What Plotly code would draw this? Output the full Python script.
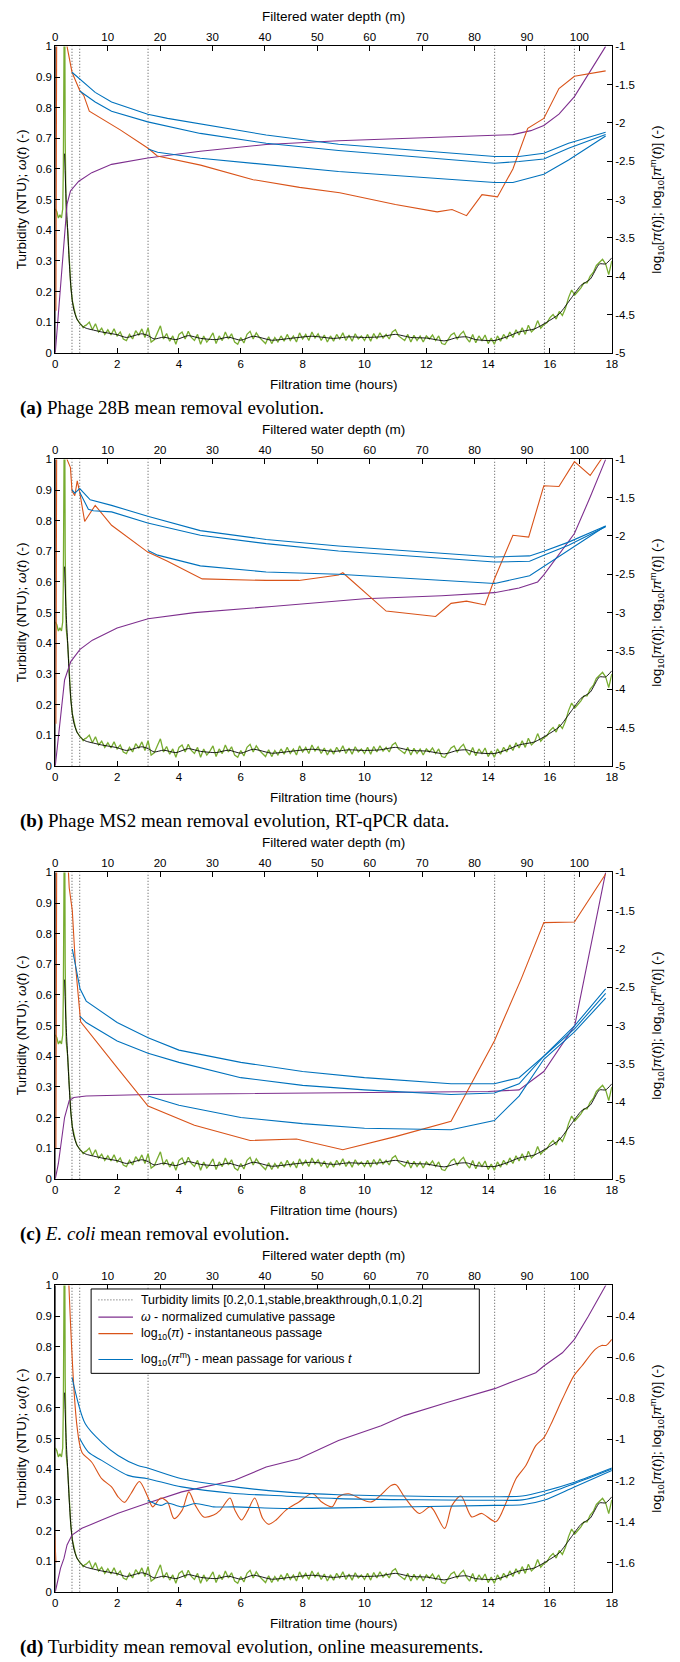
import plotly.graph_objects as go

W, H = 680, 1662
X0, X1 = 53, 617
TOP0, BOT0, STEP = 40.7, 349.3, 416

BLUE, ORANGE, PURPLE, GREEN = "#0072BD", "#D95319", "#7E2F8E", "#77AC30"
FONT = "Liberation Sans, Arial, sans-serif"
SERIF = "Liberation Serif, Times New Roman, serif"

# ---------------- data ----------------
hours_ticks = list(range(0, 19, 2))
depth_ticks = list(range(0, 101, 10))
depth_max = 106.2
left_ticks = [0, 0.1, 0.2, 0.3, 0.4, 0.5, 0.6, 0.7, 0.8, 0.9, 1]
right_ticks_abc = [-1, -1.5, -2, -2.5, -3, -3.5, -4, -4.5, -5]
right_ticks_d = [-0.4, -0.6, -0.8, -1, -1.2, -1.4, -1.6]
limit_times = [0.54, 0.79, 3.0, 14.21, 15.82, 16.79]

# turbidity raw (green) and smoothed (black), shared by all panels
green_t = [0, 0.05, 0.1, 0.15, 0.2, 0.24, 0.26, 0.28, 0.3, 0.32, 0.35, 0.4, 0.45, 0.5, 0.55, 0.6,
           0.65, 0.7, 0.75, 0.8, 0.85, 0.9, 0.95] + [round(1 + 0.1 * i, 1) for i in range(171)]
green_v = [0.47, 0.46, 0.44, 0.45, 0.44, 0.47, 0.6, 1.3, 1.3, 0.7, 0.45, 0.4, 0.3, 0.22, 0.17, 0.145,
           0.125, 0.11, 0.1, 0.095, 0.09, 0.082, 0.088,
           0.09, 0.1, 0.075, 0.095, 0.068, 0.08, 0.06, 0.075, 0.058, 0.078,
           0.055, 0.068, 0.045, 0.04, 0.06, 0.045, 0.072, 0.058, 0.078, 0.05,
           0.082, 0.035, 0.042, 0.065, 0.088, 0.045, 0.063, 0.038, 0.055, 0.028,
           0.06, 0.068, 0.045, 0.07, 0.05, 0.04, 0.06, 0.028, 0.055, 0.035,
           0.048, 0.065, 0.03, 0.055, 0.04, 0.068, 0.045, 0.062, 0.035, 0.028,
           0.05, 0.032, 0.06, 0.07, 0.045, 0.065, 0.05, 0.04, 0.03, 0.052,
           0.03, 0.05, 0.035, 0.055, 0.038, 0.06, 0.04, 0.055, 0.035, 0.065,
           0.045, 0.06, 0.04, 0.068, 0.048, 0.062, 0.04, 0.058, 0.035, 0.055,
           0.038, 0.06, 0.045, 0.065, 0.04, 0.058, 0.038, 0.062, 0.045, 0.055,
           0.04, 0.06, 0.038, 0.063, 0.045, 0.065, 0.048, 0.06, 0.045, 0.068,
           0.075, 0.055, 0.048, 0.04, 0.06, 0.035, 0.057, 0.04, 0.055, 0.035,
           0.055, 0.045, 0.058, 0.04, 0.055, 0.03, 0.027, 0.045, 0.058, 0.065,
           0.045, 0.06, 0.07, 0.048, 0.035, 0.06, 0.033, 0.055, 0.04, 0.058,
           0.03, 0.048, 0.028, 0.055, 0.038, 0.06, 0.045, 0.068, 0.05, 0.075,
           0.058, 0.082, 0.06, 0.09, 0.068, 0.078, 0.105, 0.08, 0.092, 0.098,
           0.115, 0.125, 0.11, 0.135, 0.122, 0.145, 0.18, 0.205, 0.188, 0.2,
           0.212, 0.228, 0.228, 0.25, 0.262, 0.285, 0.295, 0.305, 0.29, 0.255,
           0.3]
black_t = [0, 0.01, None, 0.3, 0.35, 0.4, 0.45, 0.5, 0.55, 0.6, 0.7, 0.8, 0.9, 1.0, 1.5, 2.0, 2.3, 2.8,
           3.0, 3.2, 3.5, 3.9, 4.3, 4.7, 5.2, 5.6, 6.0, 6.4, 7.0, 7.6, 8.3, 9.0, 9.5, 10.0, 10.5,
           11.0, 11.5, 12.0, 12.6, 13.0, 13.3, 13.6, 14.2, 14.6, 15.0, 15.5, 15.9, 16.3, 16.7,
           17.0, 17.3, 17.6, 17.8, 18.0]
black_v = [0, 1.5, None, 0.65, 0.5, 0.4, 0.3, 0.22, 0.17, 0.14, 0.11, 0.095, 0.085, 0.08, 0.068, 0.059,
           0.05, 0.062, 0.056, 0.045, 0.051, 0.043, 0.056, 0.047, 0.043, 0.051, 0.041, 0.054, 0.041,
           0.047, 0.054, 0.047, 0.052, 0.05, 0.052, 0.06, 0.05, 0.048, 0.039, 0.05, 0.052, 0.043,
           0.04, 0.052, 0.068, 0.078, 0.1, 0.127, 0.18, 0.22, 0.24, 0.29, 0.29, 0.31]

# ---- panel (a) Phage 28B ----
a_orange_t = [0.02, 0.05, 0.36, 0.38, 0.54, 0.79, 0.92, 1.1, 2.1, 3.0, 3.3, 4.7, 6.4, 7.9, 9.2, 11.0,
              12.35, 12.83, 13.3, 13.57, 13.8, 14.3, 14.8, 15.28, 15.8, 16.29, 16.79, 17.8]
a_orange_v = [-4.45, 0, 0, -1.0, -1.337, -1.575, -1.64, -1.846, -2.09, -2.33, -2.43, -2.55, -2.74, -2.84,
              -2.91, -3.065, -3.16, -3.13, -3.21, -3.07, -2.935, -2.965, -2.60, -2.07, -1.94, -1.55, -1.39, -1.32]
a_blue1_t = [0.54, 0.97, 1.29, 1.82, 2.99, 3.63, 4.69, 6.82, 9.16, 14.21, 15.0, 15.8, 16.6, 17.8]
a_blue1_v = [-1.337, -1.487, -1.60, -1.726, -1.885, -1.94, -2.015, -2.157, -2.278, -2.438, -2.438, -2.395, -2.265, -2.12]
a_blue2_t = [0.79, 1.29, 1.82, 2.99, 4.69, 6.82, 9.16, 14.21, 15.0, 15.8, 16.6, 17.8]
a_blue2_v = [-1.583, -1.726, -1.846, -1.985, -2.136, -2.265, -2.36, -2.525, -2.503, -2.469, -2.33, -2.15]
a_blue3_t = [3.0, 3.31, 4.69, 6.82, 9.16, 14.21, 14.8, 15.8, 16.6, 17.8]
a_blue3_v = [-2.339, -2.382, -2.46, -2.546, -2.633, -2.776, -2.776, -2.668, -2.483, -2.17]
a_purple_t = [0, 0.38, 0.49, 0.76, 1.18, 1.82, 2.99, 4.69, 6.82, 9.16, 14.21, 14.8, 15.38, 15.8, 16.29, 16.79, 17.8]
a_purple_v = [0, 0.485, 0.528, 0.56, 0.588, 0.615, 0.636, 0.658, 0.68, 0.692, 0.71, 0.712, 0.725, 0.742, 0.779, 0.836, 1.0]

# ---- panel (b) Phage MS2 ----
b_orange_t = [0.02, 0.05, 0.36, 0.38, 0.49, 0.54, 0.63, 0.71, 0.79, 0.95, 1.29, 1.82, 2.99, 3.63, 4.75, 6.82,
              7.88, 9.16, 9.3, 10.7, 12.3, 12.8, 13.3, 13.9, 14.21, 14.8, 15.31, 15.8, 16.29, 16.79, 17.3, 17.67]
b_orange_v = [-4.45, 0, 0, -1.0, -1.107, -1.41, -1.475, -1.28, -1.43, -1.81, -1.60, -1.86, -2.21, -2.33, -2.56,
              -2.58, -2.58, -2.51, -2.48, -2.98, -3.05, -2.88, -2.85, -2.9, -2.555, -1.99, -2.015, -1.345,
              -1.354, -1.03, -1.21, -0.99]
b_blue1_t = [0.54, 0.63, 0.79, 1.13, 1.82, 2.99, 4.69, 6.82, 9.16, 14.21, 15.34, 15.8, 16.6, 17.8]
b_blue1_v = [-1.397, -1.44, -1.38, -1.527, -1.60, -1.743, -1.93, -2.045, -2.13, -2.274, -2.26, -2.2, -2.08, -1.87]
b_blue2_t = [0.79, 1.07, 1.23, 1.82, 2.99, 4.69, 6.82, 9.16, 14.21, 15.34, 15.8, 16.6, 17.8]
b_blue2_v = [-1.43, -1.65, -1.67, -1.685, -1.83, -1.99, -2.10, -2.195, -2.34, -2.33, -2.25, -2.12, -1.88]
b_blue3_t = [3.0, 3.31, 4.69, 6.82, 9.16, 14.21, 15.34, 15.8, 16.6, 17.8]
b_blue3_v = [-2.19, -2.25, -2.39, -2.47, -2.50, -2.62, -2.52, -2.40, -2.19, -1.87]
b_purple_t = [0, 0.1, 0.3, 0.5, 0.8, 1.2, 2, 3, 4.5, 7, 10, 12.5, 14.2, 15, 15.6, 15.8, 16.79, 17.3, 17.8]
b_purple_v = [0, 0.1, 0.28, 0.34, 0.38, 0.41, 0.45, 0.48, 0.5, 0.52, 0.545, 0.555, 0.565, 0.58, 0.6, 0.623,
              0.758, 0.877, 1.0]

# ---- panel (c) E. coli ----
c_orange_t = [0.02, 0.05, 0.3, 0.45, 0.55, 0.65, 0.82, 1.5, 2.0, 3.0, 4.5, 6.3, 7.8, 9.3, 11.0, 12.8, 14.2,
              15.07, 15.8, 16.79, 17.8]
c_orange_v = [-4.6, 0, 0, -1.2, -1.5, -2.2, -2.95, -3.3, -3.55, -4.05, -4.3, -4.5, -4.48, -4.62, -4.45, -4.25,
              -3.2, -2.39, -1.656, -1.648, -1.02]
c_blue1_t = [0.55, 0.8, 1, 2, 3, 4, 6, 8, 10, 12.8, 14.2, 15, 15.8, 16.8, 17.8]
c_blue1_v = [-2.0, -2.52, -2.68, -2.96, -3.16, -3.32, -3.48, -3.6, -3.68, -3.76, -3.76, -3.68, -3.4, -3.0, -2.52]
c_blue2_t = [0.8, 1, 2, 3, 4, 6, 8, 10, 12.8, 14.2, 15, 15.8, 16.8, 17.8]
c_blue2_v = [-2.88, -2.96, -3.2, -3.36, -3.48, -3.68, -3.78, -3.84, -3.9, -3.88, -3.76, -3.4, -3.04, -2.58]
c_blue3_t = [3, 4, 6, 8, 10, 12.8, 14.2, 15, 15.8, 16.8, 17.8]
c_blue3_v = [-3.92, -4.04, -4.2, -4.28, -4.34, -4.36, -4.24, -3.92, -3.44, -3.08, -2.64]
c_purple_t = [0, 0.1, 0.3, 0.45, 0.6, 1, 3, 8, 14, 15, 15.8, 16.8, 17.8]
c_purple_v = [0, 0.05, 0.2, 0.255, 0.265, 0.27, 0.275, 0.28, 0.285, 0.29, 0.35, 0.5, 1.0]

# ---- panel (d) turbidity, online ----
d_orange_t = [0.02, 0.05, 0.4, 0.44, 0.7, 0.86, 1.18, 1.5, 1.82, 2.03, 2.24, 2.45, 2.72, 2.99, 3.15, 3.41,
              3.63, 3.84, 4.1, 4.32, 4.53, 4.8, 5.12, 5.33, 5.65, 5.81, 6.02, 6.23, 6.45, 6.71, 6.9, 7.14,
              7.45, 7.88, 8.31, 8.63, 8.95, 9.16, 9.48, 10.22, 10.86, 11.02, 11.29, 11.77, 12.14, 12.59,
              12.83, 13.12, 13.47, 13.79, 14.25, 14.59, 14.9, 15.22, 15.54, 15.81, 16.08, 16.4, 16.77,
              17.03, 17.46, 17.67, 17.81, 18.0]
d_orange_v = [-1.6, 0, 0, -0.251, -0.933, -1.062, -1.111, -1.191, -1.231, -1.279, -1.306, -1.263, -1.205,
              -1.279, -1.328, -1.285, -1.304, -1.385, -1.345, -1.255, -1.321, -1.377, -1.368, -1.345, -1.285,
              -1.345, -1.392, -1.345, -1.285, -1.385, -1.413, -1.392, -1.345, -1.304, -1.263, -1.306, -1.328,
              -1.279, -1.264, -1.304, -1.224, -1.22, -1.279, -1.36, -1.328, -1.433, -1.321, -1.275, -1.377,
              -1.36, -1.4, -1.304, -1.191, -1.127, -1.03, -0.99, -0.91, -0.804, -0.691, -0.643, -0.562,
              -0.543, -0.543, -0.513]
d_blue1_t = [0.54, 0.97, 1.5, 2.03, 2.67, 2.99, 4.09, 5.8, 7.4, 9.16, 14.21, 15.1, 15.8, 16.79, 18]
d_blue1_v = [-0.698, -0.924, -1.014, -1.078, -1.127, -1.139, -1.191, -1.231, -1.255, -1.269, -1.279, -1.275,
             -1.252, -1.208, -1.139]
d_blue2_t = [0.79, 1.07, 1.5, 2.35, 2.99, 4.09, 5.8, 7.4, 9.16, 14.21, 15.1, 15.8, 16.79, 18]
d_blue2_v = [-0.996, -1.062, -1.102, -1.175, -1.191, -1.231, -1.263, -1.275, -1.288, -1.296, -1.294, -1.269,
             -1.215, -1.144]
d_blue3_t = [2.99, 3.41, 3.63, 4.09, 4.52, 5.12, 5.8, 7.4, 9.16, 14.21, 15.1, 15.8, 16.79, 18]
d_blue3_v = [-1.296, -1.321, -1.309, -1.328, -1.312, -1.328, -1.328, -1.336, -1.333, -1.321, -1.318, -1.296,
             -1.231, -1.151]
d_purple_t = [0, 0.17, 0.28, 0.38, 0.54, 0.86, 1.5, 2.03, 2.99, 4.09, 5.8, 6.82, 7.88, 9.16, 10.54, 11.29,
              12.67, 13.42, 14.21, 15.0, 15.54, 15.8, 16.4, 16.79, 17.24, 17.8, 18.0]
d_purple_v = [0, 0.077, 0.109, 0.153, 0.185, 0.207, 0.234, 0.256, 0.29, 0.326, 0.364, 0.407, 0.434, 0.494,
              0.542, 0.575, 0.618, 0.64, 0.663, 0.694, 0.715, 0.737, 0.78, 0.824, 0.899, 1.0, 1.04]

captions = ["<b>(a)</b> Phage 28B mean removal evolution.",
            "<b>(b)</b> Phage MS2 mean removal evolution, RT-qPCR data.",
            "<b>(c)</b> <i>E. coli</i> mean removal evolution.",
            "<b>(d)</b> Turbidity mean removal evolution, online measurements."]
legend_labels = ["Turbidity limits [0.2,0.1,stable,breakthrough,0.1,0.2]",
                 "<i>ω</i> - normalized cumulative passage",
                 "log<sub>10</sub>(<i>π</i>) - instantaneous passage",
                 "log<sub>10</sub>(<i>π</i><sup>m</sup>) - mean passage for various <i>t</i>"]

panels = [
    dict(orange=(a_orange_t, a_orange_v), blues=[(a_blue1_t, a_blue1_v), (a_blue2_t, a_blue2_v), (a_blue3_t, a_blue3_v)],
         purple=(a_purple_t, a_purple_v), rticks=right_ticks_abc, rrange=[-5, -1], spline=False),
    dict(orange=(b_orange_t, b_orange_v), blues=[(b_blue1_t, b_blue1_v), (b_blue2_t, b_blue2_v), (b_blue3_t, b_blue3_v)],
         purple=(b_purple_t, b_purple_v), rticks=right_ticks_abc, rrange=[-5, -1], spline=False),
    dict(orange=(c_orange_t, c_orange_v), blues=[(c_blue1_t, c_blue1_v), (c_blue2_t, c_blue2_v), (c_blue3_t, c_blue3_v)],
         purple=(c_purple_t, c_purple_v), rticks=right_ticks_abc, rrange=[-5, -1], spline=False),
    dict(orange=(d_orange_t, d_orange_v), blues=[(d_blue1_t, d_blue1_v), (d_blue2_t, d_blue2_v), (d_blue3_t, d_blue3_v)],
         purple=(d_purple_t, d_purple_v), rticks=right_ticks_d, rrange=[-1.741, -0.251], spline=True),
]

# ---------------- figure ----------------
def py(p):
    return 1 - p / H

def px(p):
    return p / W

def ref(kind, n):
    return kind if n == 1 else f"{kind}{n}"

TICK_SIZE, TITLE_SIZE, LEG_SIZE, CAP_SIZE = 11.5, 13.5, 12.4, 19

fig = go.Figure()
layout = dict(width=W, height=H, margin=dict(l=0, r=0, t=0, b=0), paper_bgcolor="white",
              plot_bgcolor="rgba(0,0,0,0)", showlegend=False,
              font=dict(family=FONT, size=TICK_SIZE, color="black"))
annotations, shapes = [], []

axis_common = dict(showgrid=False, zeroline=False, showline=True, linecolor="black", linewidth=1,
                   ticks="inside", ticklen=5, tickcolor="black", tickwidth=1,
                   tickfont=dict(family=FONT, size=TICK_SIZE, color="black"), fixedrange=True)

def fmt(v):
    return f"{v:g}"

LW = 1.1
for k, p in enumerate(panels):
    nb, nt = 2 * k + 1, 2 * k + 2
    top, bot = TOP0 + STEP * k, BOT0 + STEP * k
    ydom = [py(bot), py(top)]
    xdom = [px(X0), px(X1)]
    xb, xt, yl, yr = ref("x", nb), ref("x", nt), ref("y", nb), ref("y", nt)
    layout[ref("xaxis", nb)] = dict(axis_common, domain=xdom, range=[0, 18], anchor=yl, side="bottom",
                                    tickvals=hours_ticks, ticktext=[str(v) for v in hours_ticks])
    layout[ref("xaxis", nt)] = dict(axis_common, overlaying=xb, range=[0, depth_max], anchor=yl, side="top",
                                    tickvals=depth_ticks, ticktext=[str(v) for v in depth_ticks])
    layout[ref("yaxis", nb)] = dict(axis_common, domain=ydom, range=[0, 1], anchor=xb, side="left",
                                    tickvals=left_ticks, ticktext=[fmt(v) for v in left_ticks])
    layout[ref("yaxis", nt)] = dict(axis_common, overlaying=yl, range=p["rrange"], anchor=xb, side="right",
                                    tickvals=p["rticks"], ticktext=[fmt(v) for v in p["rticks"]])

    # dummy trace so the top axis renders
    fig.add_trace(go.Scatter(x=[0], y=[0], xaxis=xt, yaxis=yl, mode="markers",
                             marker=dict(opacity=0), hoverinfo="skip"))
    # dotted turbidity limits
    lx, ly = [], []
    for t in limit_times:
        lx += [t, t, None]
        ly += [0, 1, None]
    fig.add_trace(go.Scatter(x=lx, y=ly, xaxis=xb, yaxis=yl, mode="lines",
                             line=dict(color="#505050", width=1, dash="1px,2px"), hoverinfo="skip"))
    # green raw turbidity
    fig.add_trace(go.Scatter(x=green_t, y=green_v, xaxis=xb, yaxis=yl, mode="lines",
                             line=dict(color=GREEN, width=1.3), hoverinfo="skip"))
    # black smoothed turbidity
    fig.add_trace(go.Scatter(x=black_t, y=black_v, xaxis=xb, yaxis=yl, mode="lines",
                             line=dict(color="black", width=0.9, shape="spline", smoothing=0.6), hoverinfo="skip"))
    # purple omega
    fig.add_trace(go.Scatter(x=p["purple"][0], y=p["purple"][1], xaxis=xb, yaxis=yl, mode="lines",
                             line=dict(color=PURPLE, width=LW), hoverinfo="skip"))
    # orange instantaneous passage
    oshape = dict(shape="spline", smoothing=0.8) if p["spline"] else {}
    fig.add_trace(go.Scatter(x=p["orange"][0], y=p["orange"][1], xaxis=xb, yaxis=yr, mode="lines",
                             line=dict(color=ORANGE, width=LW, **oshape), hoverinfo="skip"))
    # blue mean passages
    for bt, bv in p["blues"]:
        fig.add_trace(go.Scatter(x=bt, y=bv, xaxis=xb, yaxis=yr, mode="lines",
                                 line=dict(color=BLUE, width=LW, **oshape), hoverinfo="skip"))

    mid = (top + bot) / 2
    annotations += [
        dict(text="Filtered water depth (m)", x=px((X0 + X1) / 2), y=py(11 + STEP * k), xref="paper", yref="paper",
             xanchor="center", yanchor="middle", showarrow=False, font=dict(family=FONT, size=TITLE_SIZE)),
        dict(text="Filtration time (hours)", x=px((X0 + X1) / 2), y=py(381.7 + STEP * k), xref="paper", yref="paper",
             xanchor="center", yanchor="middle", showarrow=False, font=dict(family=FONT, size=TITLE_SIZE)),
        dict(text="Turbidity (NTU); <i>ω</i>(<i>t</i>) (-)", x=px(19), y=py(mid), xref="paper", yref="paper",
             xanchor="center", yanchor="middle", textangle=-90, showarrow=False, font=dict(family=FONT, size=TITLE_SIZE)),
        dict(text="log<sub>10</sub>[<i>π</i>(<i>t</i>)]; log<sub>10</sub>[<i>π</i><sup>m</sup>(<i>t</i>)] (-)",
             x=px(662), y=py(mid), xref="paper", yref="paper", xanchor="center", yanchor="middle",
             textangle=-90, showarrow=False, font=dict(family=FONT, size=TITLE_SIZE)),
        dict(text=captions[k], x=px(15), y=py(405 + STEP * k), xref="paper", yref="paper", xanchor="left",
             yanchor="middle", showarrow=False, font=dict(family=SERIF, size=CAP_SIZE)),
    ]

# legend box in panel (d)
LB_X0, LB_X1, LB_Y0, LB_Y1 = 89.3, 482.7, 1292.3, 1377.3
shapes.append(dict(type="rect", xref="paper", yref="paper", x0=px(LB_X0), x1=px(LB_X1), y0=py(LB_Y1), y1=py(LB_Y0),
                   line=dict(color="black", width=1), fillcolor="white", layer="above"))
legend_styles = [dict(color="#505050", width=1, dash="1px,2px"), dict(color=PURPLE, width=LW),
                 dict(color=ORANGE, width=LW), dict(color=BLUE, width=LW)]
legend_rows = [1303.3, 1320.7, 1337.3, 1363.3]
for lbl, sty, yy in zip(legend_labels, legend_styles, legend_rows):
    shapes.append(dict(type="line", xref="paper", yref="paper", x0=px(96.7), x1=px(131.7), y0=py(yy), y1=py(yy),
                       line=sty, layer="above"))
    annotations.append(dict(text=lbl, x=px(138.3), y=py(yy), xref="paper", yref="paper", xanchor="left",
                            yanchor="middle", showarrow=False, font=dict(family=FONT, size=LEG_SIZE)))

layout["annotations"] = annotations
layout["shapes"] = shapes
fig.update_layout(**layout)
fig.write_html("out.html")
